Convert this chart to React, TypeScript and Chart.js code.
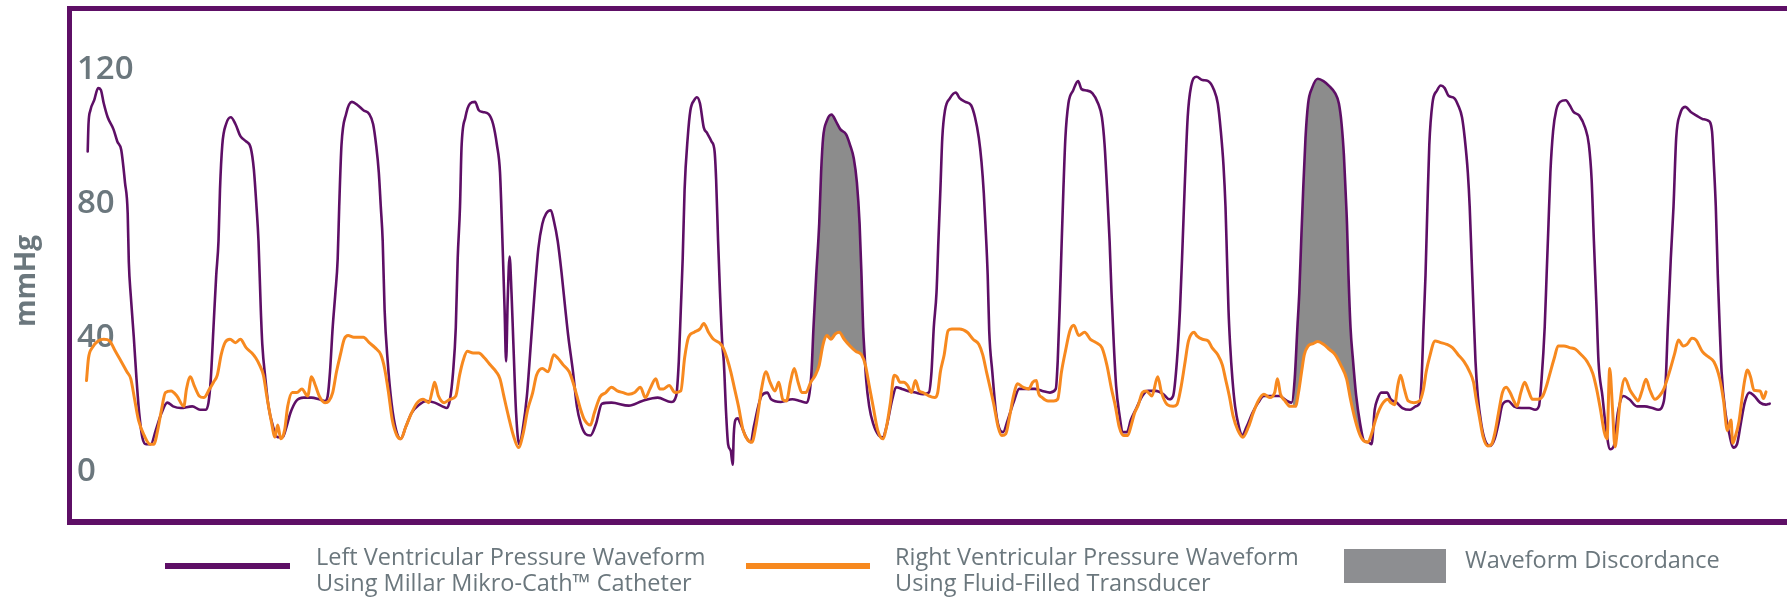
import React, { useEffect, useRef } from "react";
import { Chart, registerables } from "chart.js";

Chart.register(...registerables);

// Left ventricular pressure (Millar Mikro-Cath) — [time sample, mmHg]
const lvSamples: [number, number][] = [
  [15.7, 94.7], [16.5, 102.9], [18.4, 107.0], [22.2, 110.0], [26.1, 113.6], [28.8, 113.1], [31.8, 109.0], [35.7, 104.9],
  [41.5, 101.3], [45.3, 97.7], [49.2, 95.2], [53.0, 85.4], [55.7, 76.2], [56.8, 61.8], [58.8, 51.6], [61.8, 39.3],
  [64.5, 26.9], [67.2, 16.7], [70.3, 9.5], [74.1, 7.4], [78.8, 7.4], [83.8, 11.6], [89.5, 16.7], [95.3, 19.8],
  [101.1, 18.7], [108.8, 18.2], [120.3, 18.7], [128.0, 17.7], [133.8, 17.7], [136.5, 19.8], [138.8, 26.9], [141.5, 42.3],
  [144.2, 57.7], [146.5, 68.0], [148.0, 83.4], [150.3, 96.7], [154.1, 102.9], [158.8, 104.9], [163.4, 102.9], [168.4, 99.3],
  [174.1, 97.7], [178.8, 95.7], [181.8, 89.5], [184.5, 78.2], [186.5, 68.0], [188.8, 47.5], [190.3, 37.2], [193.4, 26.9],
  [196.5, 18.7], [201.1, 12.6], [205.7, 9.5], [210.7, 9.5], [214.5, 12.6], [218.4, 16.7], [224.2, 20.3], [231.8, 21.3],
  [239.5, 21.3], [247.2, 20.8], [253.0, 20.3], [255.7, 21.8], [258.0, 29.0], [260.7, 42.3], [263.4, 52.6], [265.7, 62.8],
  [267.2, 78.2], [269.5, 96.7], [274.1, 105.9], [279.9, 109.5], [285.7, 108.5], [291.4, 107.0], [297.2, 105.9], [301.1, 102.9],
  [304.1, 96.7], [306.8, 88.5], [308.8, 78.2], [310.7, 68.0], [312.6, 47.5], [315.7, 32.1], [319.5, 19.8], [324.1, 11.6],
  [328.8, 9.0], [333.8, 12.6], [339.5, 16.7], [347.2, 19.2], [354.9, 20.3], [362.6, 19.8], [370.3, 18.7], [374.9, 18.2],
  [378.0, 20.8], [381.1, 29.0], [383.8, 42.3], [385.7, 62.8], [388.0, 78.2], [389.5, 95.7], [393.4, 104.9], [398.0, 109.0],
  [403.0, 109.5], [406.8, 107.0], [410.7, 106.5], [416.4, 105.9], [421.1, 102.9], [424.9, 96.7], [428.0, 88.5], [429.9, 73.1],
  [431.1, 61.8], [432.6, 47.5], [434.1, 32.1], [435.7, 50.5], [437.6, 63.4], [439.5, 52.6], [441.4, 37.2], [444.1, 16.7],
  [447.2, 7.4], [451.1, 12.6], [454.9, 21.8], [458.8, 37.2], [462.6, 52.6], [466.4, 65.9], [470.3, 73.1], [474.1, 76.2],
  [478.8, 77.2], [481.8, 74.1], [485.7, 68.0], [489.5, 58.7], [493.4, 47.5], [496.4, 39.3], [501.0, 29.0], [504.9, 18.7],
  [508.7, 13.6], [513.4, 10.5], [518.4, 10.0], [524.1, 13.6], [529.9, 19.5], [539.5, 19.8], [556.8, 18.9], [570.3, 20.3],
  [585.7, 21.3], [599.2, 20.0], [604.2, 21.8], [606.8, 32.1], [608.8, 47.5], [610.7, 62.8], [612.6, 83.4], [615.7, 98.8],
  [618.4, 107.0], [622.2, 110.0], [624.9, 110.9], [628.0, 109.0], [631.8, 101.8], [634.9, 100.3], [639.5, 97.7], [642.6, 94.7],
  [644.1, 86.5], [646.1, 68.0], [648.0, 52.6], [650.3, 37.2], [651.8, 32.1], [654.1, 16.7], [656.1, 7.4], [658.8, 5.4],
  [660.7, 1.3], [661.8, 10.5], [663.4, 14.6], [665.7, 15.1], [668.4, 13.6], [674.1, 9.5], [678.8, 8.0], [681.8, 12.6],
  [689.5, 21.8], [695.3, 22.8], [699.1, 20.8], [708.8, 20.0], [720.3, 20.8], [728.0, 20.3], [734.9, 19.8], [737.6, 22.8],
  [739.5, 29.0], [741.5, 42.3], [744.2, 57.7], [747.2, 73.1], [749.1, 88.5], [751.1, 98.8], [754.9, 103.9], [759.5, 105.7],
  [764.5, 103.4], [768.4, 101.3], [774.1, 99.8], [778.0, 96.7], [781.8, 92.6], [784.9, 85.4], [787.6, 73.1], [789.5, 57.7],
  [791.1, 42.3], [792.6, 34.1], [794.1, 26.9], [797.2, 18.7], [801.1, 13.6], [806.8, 10.0], [810.7, 9.5], [814.5, 12.6],
  [820.3, 20.8], [824.1, 24.4], [829.9, 23.9], [835.7, 23.3], [843.4, 22.8], [851.1, 22.3], [856.8, 22.8], [859.5, 29.0],
  [861.8, 42.3], [864.5, 52.6], [866.4, 68.0], [868.4, 83.4], [870.3, 98.8], [873.0, 107.0], [878.0, 110.6], [883.8, 112.3],
  [887.6, 110.6], [893.4, 109.5], [899.1, 108.5], [903.0, 104.9], [906.8, 98.8], [909.5, 91.6], [911.8, 82.3], [913.4, 73.1],
  [915.7, 57.7], [917.2, 41.3], [920.3, 29.0], [924.1, 16.7], [928.0, 11.6], [931.1, 11.0], [935.7, 14.6], [941.5, 19.8],
  [947.2, 23.9], [954.9, 23.9], [962.6, 23.9], [970.3, 23.3], [978.0, 22.8], [983.8, 23.9], [985.7, 32.1], [987.6, 47.5],
  [989.5, 65.9], [991.4, 83.4], [993.4, 98.8], [996.4, 109.0], [1001.1, 112.9], [1006.1, 115.7], [1009.5, 113.3], [1014.5, 112.9],
  [1020.3, 112.1], [1026.1, 109.0], [1029.9, 104.9], [1032.6, 96.7], [1034.9, 84.4], [1037.6, 68.0], [1039.5, 52.6], [1041.8, 37.2],
  [1044.1, 24.9], [1047.2, 16.7], [1051.1, 11.0], [1054.9, 11.0], [1058.8, 14.6], [1064.5, 18.2], [1070.3, 21.8], [1076.1, 23.3],
  [1083.8, 23.3], [1091.5, 22.3], [1097.2, 20.8], [1101.1, 21.8], [1104.9, 32.1], [1108.0, 47.5], [1110.7, 68.0], [1112.6, 83.4],
  [1115.7, 105.0], [1119.0, 114.0], [1124.6, 117.0], [1130.4, 116.0], [1136.2, 115.7], [1141.9, 113.1], [1145.8, 109.0], [1148.8, 100.8],
  [1151.5, 90.5], [1153.5, 78.2], [1155.0, 62.8], [1156.5, 47.5], [1158.1, 37.2], [1160.4, 26.9], [1163.1, 18.7], [1166.9, 12.6],
  [1170.0, 10.0], [1174.6, 12.6], [1180.4, 16.7], [1186.2, 19.8], [1191.9, 21.8], [1199.6, 21.8], [1207.3, 21.8], [1215.0, 20.3],
  [1219.6, 19.8], [1222.7, 26.9], [1225.4, 42.3], [1227.3, 52.6], [1229.2, 68.0], [1231.2, 83.4], [1233.5, 98.8], [1236.1, 109.0],
  [1240.0, 113.6], [1245.8, 116.4], [1251.5, 115.7], [1257.3, 114.2], [1263.1, 112.1], [1266.9, 109.0], [1269.6, 102.9], [1271.9, 93.6],
  [1273.5, 83.4], [1275.0, 73.1], [1276.5, 57.7], [1278.5, 42.3], [1281.1, 32.1], [1284.2, 21.8], [1288.1, 13.6], [1291.9, 8.5],
  [1296.5, 8.0], [1299.6, 7.4], [1302.7, 17.7], [1305.4, 20.8], [1309.2, 22.8], [1315.0, 22.8], [1318.8, 20.8], [1324.6, 19.8],
  [1330.4, 18.2], [1338.1, 17.7], [1343.8, 18.7], [1347.7, 19.8], [1349.6, 26.9], [1351.5, 42.3], [1353.5, 57.7], [1355.4, 78.2],
  [1357.3, 96.7], [1360.4, 109.0], [1365.0, 112.9], [1368.8, 114.4], [1372.7, 113.6], [1376.5, 111.3], [1382.3, 110.6], [1386.1, 108.5],
  [1390.0, 104.9], [1392.7, 98.8], [1395.8, 88.5], [1397.7, 78.2], [1399.6, 62.8], [1401.5, 47.5], [1403.5, 32.1], [1405.8, 21.8],
  [1409.2, 13.6], [1413.1, 8.5], [1418.1, 6.9], [1422.7, 9.0], [1426.5, 13.6], [1430.4, 19.2], [1436.2, 20.3], [1441.9, 18.7],
  [1449.6, 18.2], [1457.3, 18.2], [1463.1, 17.7], [1466.9, 18.7], [1469.6, 26.9], [1472.7, 42.3], [1474.6, 57.7], [1476.5, 73.1],
  [1478.4, 88.5], [1481.1, 100.8], [1484.2, 107.0], [1488.1, 109.5], [1493.8, 110.0], [1497.7, 108.5], [1501.5, 106.5], [1507.3, 105.4],
  [1513.1, 101.8], [1516.9, 96.7], [1519.6, 86.5], [1521.9, 68.0], [1524.6, 47.5], [1526.5, 32.1], [1530.4, 21.8], [1534.2, 11.6],
  [1538.1, 5.9], [1541.9, 6.9], [1545.8, 16.7], [1551.5, 21.8], [1557.3, 20.8], [1565.0, 18.7], [1572.7, 18.7], [1580.4, 18.2],
  [1586.2, 17.7], [1591.9, 20.3], [1593.8, 26.9], [1595.8, 42.3], [1598.8, 62.8], [1601.5, 78.2], [1604.2, 98.8], [1608.1, 105.9],
  [1613.1, 108.0], [1618.8, 106.5], [1624.6, 105.4], [1630.4, 104.4], [1636.2, 103.9], [1640.0, 100.8], [1641.9, 90.5], [1643.8, 78.2],
  [1645.8, 57.7], [1647.7, 42.3], [1649.6, 29.0], [1653.5, 16.7], [1657.3, 10.5], [1661.2, 6.4], [1665.0, 7.4], [1668.8, 13.6],
  [1672.7, 19.8], [1677.3, 22.8], [1682.3, 21.8], [1688.1, 19.8], [1693.8, 19.2], [1697.7, 19.5],
];

// Right ventricular pressure (fluid-filled transducer) — [time sample, mmHg]
const rvSamples: [number, number][] = [
  [14.5, 26.4], [16.5, 33.1], [20.3, 36.2], [26.1, 38.2], [31.8, 38.7], [37.6, 38.2], [43.4, 35.1], [49.2, 32.1],
  [54.9, 29.0], [58.8, 26.9], [62.6, 20.8], [66.5, 14.6], [72.2, 10.0], [78.0, 7.4], [81.8, 7.4], [85.7, 11.6],
  [89.5, 17.7], [93.4, 22.8], [99.1, 23.3], [104.9, 21.8], [111.8, 18.7], [114.5, 23.9], [118.4, 27.5], [122.2, 24.9],
  [127.2, 21.8], [131.8, 21.3], [137.6, 23.9], [141.5, 25.9], [145.3, 28.0], [149.2, 34.1], [153.0, 37.7], [158.0, 38.7],
  [163.4, 37.7], [168.4, 38.7], [174.1, 36.2], [179.9, 34.6], [183.8, 33.1], [187.6, 31.0], [191.4, 28.0], [195.3, 20.8],
  [199.1, 14.6], [203.0, 9.5], [205.7, 13.1], [208.8, 9.0], [212.6, 11.6], [215.7, 18.7], [220.3, 22.8], [224.9, 22.8],
  [229.9, 23.9], [235.7, 21.8], [239.5, 27.5], [243.4, 24.9], [247.2, 21.8], [253.0, 19.8], [256.8, 20.3], [260.7, 22.8],
  [264.5, 29.0], [268.4, 34.1], [272.2, 38.7], [276.1, 39.8], [281.8, 39.3], [291.4, 39.3], [297.2, 37.7], [303.0, 36.2],
  [308.8, 34.1], [312.6, 30.0], [316.5, 22.8], [320.3, 14.6], [324.9, 10.0], [328.8, 9.0], [333.8, 12.6], [339.5, 16.7],
  [345.3, 19.8], [351.1, 20.8], [356.8, 19.8], [360.7, 23.9], [362.6, 25.9], [366.4, 21.8], [372.2, 19.8], [378.0, 20.8],
  [383.8, 21.8], [387.6, 28.0], [391.4, 32.6], [395.3, 35.1], [401.1, 34.6], [406.8, 34.6], [412.6, 33.1], [418.4, 31.0],
  [424.2, 29.0], [428.0, 26.9], [431.8, 21.8], [436.5, 15.7], [441.4, 10.0], [446.5, 6.4], [451.1, 10.5], [455.7, 17.7],
  [460.7, 22.8], [464.5, 28.0], [470.3, 30.0], [476.1, 29.0], [481.8, 34.1], [485.7, 33.1], [491.4, 31.0], [497.2, 29.0],
  [501.0, 25.9], [504.9, 21.8], [508.7, 17.7], [512.6, 14.6], [518.4, 13.1], [522.3, 16.7], [528.0, 21.5], [533.8, 22.8],
  [539.5, 24.4], [545.3, 23.3], [551.1, 22.8], [556.8, 22.3], [562.6, 22.8], [568.4, 24.4], [573.4, 21.3], [578.0, 23.9],
  [583.8, 26.9], [587.6, 23.9], [591.5, 23.9], [597.2, 24.9], [603.0, 22.8], [608.8, 23.3], [612.6, 33.1], [616.5, 39.3],
  [622.2, 40.8], [628.0, 41.8], [631.8, 43.4], [636.5, 40.8], [641.5, 38.7], [647.2, 37.7], [651.1, 36.2], [654.9, 33.1],
  [658.8, 29.0], [662.6, 23.9], [666.5, 18.7], [671.1, 11.6], [676.1, 8.5], [679.9, 8.0], [683.8, 12.6], [686.5, 17.7],
  [689.5, 23.9], [694.1, 29.0], [698.0, 25.9], [703.0, 23.3], [706.8, 25.9], [710.7, 20.8], [714.5, 20.3], [718.4, 25.9],
  [722.2, 30.0], [726.1, 25.9], [729.9, 22.8], [733.8, 22.8], [738.8, 25.9], [743.4, 28.0], [747.2, 31.0], [751.1, 37.2],
  [754.9, 39.8], [758.8, 38.7], [763.4, 40.3], [767.2, 40.8], [772.2, 38.7], [778.0, 36.7], [783.8, 35.1], [789.5, 34.1],
  [793.4, 31.0], [797.2, 24.9], [801.1, 18.7], [805.7, 11.6], [810.7, 9.0], [814.5, 12.6], [818.4, 19.8], [822.2, 28.0],
  [824.9, 27.5], [828.0, 25.9], [831.8, 25.9], [835.7, 24.9], [839.5, 22.8], [843.4, 26.4], [847.2, 23.3], [851.1, 22.8],
  [856.8, 21.8], [862.6, 21.3], [865.7, 22.8], [868.4, 29.0], [872.2, 34.1], [876.1, 41.3], [879.9, 41.8], [887.6, 41.8],
  [895.3, 40.8], [901.1, 38.7], [906.8, 37.2], [910.7, 34.1], [914.5, 29.0], [918.4, 23.9], [922.2, 18.7], [926.1, 12.6],
  [929.9, 10.0], [933.8, 10.5], [937.6, 15.7], [941.5, 21.8], [945.3, 25.4], [951.1, 24.4], [956.8, 23.9], [960.7, 25.9],
  [964.5, 26.4], [966.4, 22.8], [970.3, 21.3], [976.1, 20.3], [981.8, 20.3], [985.7, 20.8], [989.5, 29.0], [993.4, 35.1],
  [998.0, 41.3], [1001.8, 42.9], [1006.8, 39.8], [1012.6, 40.8], [1018.4, 38.7], [1024.1, 37.7], [1029.9, 36.2], [1034.9, 31.0],
  [1039.5, 23.9], [1043.4, 18.7], [1047.2, 12.6], [1051.8, 10.0], [1055.7, 10.0], [1058.8, 12.6], [1062.6, 16.7], [1066.4, 19.2],
  [1070.3, 22.8], [1074.1, 23.3], [1079.9, 21.8], [1085.7, 27.5], [1089.5, 22.8], [1095.3, 19.2], [1101.1, 18.7], [1104.9, 19.2],
  [1108.7, 23.9], [1112.6, 31.0], [1116.5, 38.2], [1122.2, 40.8], [1124.6, 39.8], [1130.4, 38.7], [1136.2, 38.2], [1140.0, 36.2],
  [1145.8, 34.1], [1150.4, 31.0], [1153.5, 26.9], [1157.3, 21.8], [1161.2, 15.7], [1165.8, 11.6], [1170.8, 9.5], [1176.5, 12.6],
  [1181.2, 16.7], [1186.2, 20.3], [1191.9, 22.3], [1197.7, 21.3], [1202.7, 22.8], [1205.4, 26.9], [1208.5, 22.3], [1213.1, 20.3],
  [1218.1, 18.7], [1223.5, 18.7], [1226.5, 22.8], [1229.6, 29.0], [1232.3, 34.1], [1236.1, 36.7], [1241.2, 37.4], [1245.8, 38.0],
  [1251.5, 37.2], [1257.3, 35.7], [1263.1, 34.1], [1268.8, 31.0], [1274.6, 26.9], [1278.5, 20.8], [1282.3, 15.7], [1286.2, 11.6],
  [1290.0, 9.0], [1295.8, 8.0], [1299.6, 10.5], [1303.5, 14.6], [1307.3, 17.7], [1311.2, 19.8], [1315.8, 20.8], [1318.8, 19.8],
  [1322.7, 19.2], [1325.8, 24.9], [1328.5, 28.0], [1332.3, 23.9], [1336.2, 20.3], [1341.9, 19.8], [1347.7, 20.3], [1351.5, 23.9],
  [1354.2, 29.0], [1357.3, 33.1], [1363.1, 38.2], [1368.8, 37.7], [1374.6, 37.2], [1380.4, 36.2], [1386.1, 34.1], [1391.9, 32.1],
  [1397.7, 29.0], [1401.5, 25.9], [1404.2, 20.8], [1407.3, 15.7], [1411.2, 9.5], [1415.8, 6.9], [1419.6, 7.4], [1422.7, 10.5],
  [1426.5, 16.7], [1430.4, 22.8], [1434.2, 24.4], [1438.1, 22.8], [1441.9, 20.3], [1445.0, 18.7], [1448.8, 22.8], [1452.7, 25.9],
  [1456.5, 23.3], [1460.4, 20.8], [1465.8, 20.8], [1470.8, 21.8], [1474.6, 24.9], [1478.4, 29.0], [1482.3, 33.1], [1486.1, 36.7],
  [1491.9, 36.7], [1497.7, 36.2], [1503.5, 35.7], [1509.2, 34.1], [1515.0, 32.1], [1520.8, 28.5], [1524.6, 23.9], [1528.5, 17.7],
  [1532.3, 11.0], [1535.0, 9.0], [1537.7, 30.0], [1540.5, 18.0], [1543.0, 6.6], [1545.0, 10.5], [1548.0, 20.0], [1553.0, 27.0],
  [1558.1, 23.5], [1563.1, 21.3], [1566.0, 20.3], [1570.0, 23.3], [1574.0, 26.8], [1578.0, 23.5], [1583.0, 20.8], [1588.0, 22.0],
  [1592.0, 24.0], [1598.0, 29.5], [1602.7, 34.5], [1606.5, 38.5], [1611.2, 36.7], [1615.0, 37.2], [1620.0, 39.0], [1624.0, 38.5],
  [1630.4, 35.0], [1636.2, 33.5], [1641.9, 32.0], [1647.7, 27.0], [1651.5, 20.5], [1655.4, 11.5], [1659.0, 14.6], [1660.7, 7.7],
  [1663.1, 9.5], [1666.9, 14.0], [1669.6, 20.0], [1672.7, 26.5], [1675.5, 29.5], [1678.5, 27.5], [1682.0, 23.5], [1688.1, 23.3],
  [1691.5, 21.0], [1694.0, 23.0],
];

// Periods where the two waveforms disagree (shaded grey), in time samples
const discordanceWindows: [number, number][] = [
  [740, 794],
  [1221, 1297],
];

const yTickValues = [0, 40, 80, 120];
const yAxisTitle = "mmHg";

const legendLines = [
  ["Left Ventricular Pressure Waveform", "Using Millar Mikro-Cath\u2122 Catheter"],
  ["Right Ventricular Pressure Waveform", "Using Fluid-Filled Transducer"],
  ["Waveform Discordance"],
];

const PURPLE = "#5e0f66";
const ORANGE = "#f7891f";
const GREY_FILL = "#8c8c8c";
const GREY_BOX = "#8d8e91";
const TEXT = "#6b777d";
const FONT = "'Open Sans', 'DejaVu Sans', sans-serif";

function interp(samples: [number, number][], t: number): number {
  for (let i = 1; i < samples.length; i++) {
    const [t0, v0] = samples[i - 1];
    const [t1, v1] = samples[i];
    if (t >= t0 && t <= t1) {
      return t1 === t0 ? v0 : v0 + ((v1 - v0) * (t - t0)) / (t1 - t0);
    }
  }
  return samples[samples.length - 1][1];
}

function discordanceShape([a, b]: [number, number]) {
  const upper = lvSamples.filter(([t]) => t > a && t < b).map(([x, y]) => ({ x, y }));
  const lower = rvSamples.filter(([t]) => t > a && t < b).map(([x, y]) => ({ x, y })).reverse();
  return [
    { x: a, y: interp(lvSamples, a) },
    ...upper,
    { x: b, y: interp(lvSamples, b) },
    { x: b, y: interp(rvSamples, b) },
    ...lower,
    { x: a, y: interp(rvSamples, a) },
  ];
}

const framePlugin = {
  id: "frame",
  beforeDatasetsDraw(chart: any) {
    const { ctx, chartArea: a, width } = chart;
    const t = 5;
    ctx.save();
    ctx.fillStyle = PURPLE;
    ctx.fillRect(a.left - t, a.top - t, width, t);
    ctx.fillRect(a.left - t, a.top - t, t, a.bottom - a.top + 2 * t + 1);
    ctx.fillRect(a.left - t, a.bottom, width, t + 1);
    ctx.restore();
  },
};

const axisTitlePlugin = {
  id: "axisTitle",
  afterDraw(chart: any) {
    const { ctx, chartArea: a } = chart;
    ctx.save();
    ctx.translate(27, (a.top + a.bottom) / 2 + 16);
    ctx.rotate(-Math.PI / 2);
    ctx.font = `bold 28px ${FONT}`;
    ctx.fillStyle = TEXT;
    ctx.textAlign = "center";
    ctx.textBaseline = "middle";
    ctx.fillText(yAxisTitle, 0, 0);
    ctx.restore();
  },
};

export default function App() {
  const canvasRef = useRef<HTMLCanvasElement | null>(null);

  useEffect(() => {
    const canvas = canvasRef.current;
    if (!canvas) return;
    const lineBase = {
      pointRadius: 0,
      pointHoverRadius: 0,
      tension: 0,
      fill: false,
      borderJoinStyle: "round" as const,
      borderCapStyle: "round" as const,
    };
    const chart = new Chart(canvas, {
      type: "line",
      data: {
        datasets: [
          {
            ...lineBase,
            label: legendLines[1].join(" "),
            data: rvSamples.map(([x, y]) => ({ x, y })),
            borderColor: ORANGE,
            borderWidth: 3,
            cubicInterpolationMode: "monotone" as const,
          },
          {
            ...lineBase,
            label: legendLines[0].join(" "),
            data: lvSamples.map(([x, y]) => ({ x, y })),
            borderColor: PURPLE,
            borderWidth: 2.6,
            cubicInterpolationMode: "monotone" as const,
          },
          ...discordanceWindows.map((w) => ({
            ...lineBase,
            label: legendLines[2][0],
            data: discordanceShape(w),
            borderWidth: 0,
            borderColor: GREY_FILL,
            backgroundColor: GREY_FILL,
            fill: "shape" as const,
          })),
        ],
      },
      options: {
        responsive: false,
        animation: false,
        devicePixelRatio: 1,
        events: [],
        layout: { padding: { top: 11, right: 0, bottom: 81, left: 0 } },
        plugins: {
          legend: { display: false },
          tooltip: { enabled: false },
        },
        scales: {
          x: { type: "linear", min: 0, max: 1715, display: false },
          y: {
            type: "linear",
            min: -14.9,
            max: 136.6,
            grid: { display: false },
            border: { display: false },
            afterFit: (scale: any) => {
              scale.width = 72;
              scale.paddingTop = 0;
              scale.paddingBottom = 0;
            },
            afterBuildTicks: (scale: any) => {
              scale.ticks = yTickValues.map((value) => ({ value }));
            },
            ticks: {
              mirror: true,
              padding: 5,
              labelOffset: 3,
              color: TEXT,
              font: { family: FONT, size: 33, weight: "600" },
              callback: (v: any) => String(v),
            },
          },
        },
      },
      plugins: [framePlugin, axisTitlePlugin],
    });
    return () => chart.destroy();
  }, []);

  const textStyle: React.CSSProperties = {
    position: "absolute",
    fontFamily: FONT,
    fontSize: 23.5,
    lineHeight: "26px",
    color: TEXT,
    whiteSpace: "nowrap",
  };

  return (
    <div style={{ position: "absolute", left: 0, top: 0, width: 1787, height: 600, background: "#fff" }}>
      <canvas ref={canvasRef} width={1787} height={600} style={{ display: "block" }} />
      <div style={{ position: "absolute", left: 165, top: 563, width: 125, height: 6, background: PURPLE }} />
      <div style={{ ...textStyle, left: 316, top: 543 }}>
        {legendLines[0].map((l) => (
          <div key={l}>{l}</div>
        ))}
      </div>
      <div style={{ position: "absolute", left: 746, top: 563, width: 124, height: 6, background: ORANGE }} />
      <div style={{ ...textStyle, left: 895, top: 543 }}>
        {legendLines[1].map((l) => (
          <div key={l}>{l}</div>
        ))}
      </div>
      <div style={{ position: "absolute", left: 1344, top: 549, width: 102, height: 34, background: GREY_BOX }} />
      <div style={{ ...textStyle, left: 1465, top: 546 }}>
        {legendLines[2].map((l) => (
          <div key={l}>{l}</div>
        ))}
      </div>
    </div>
  );
}
